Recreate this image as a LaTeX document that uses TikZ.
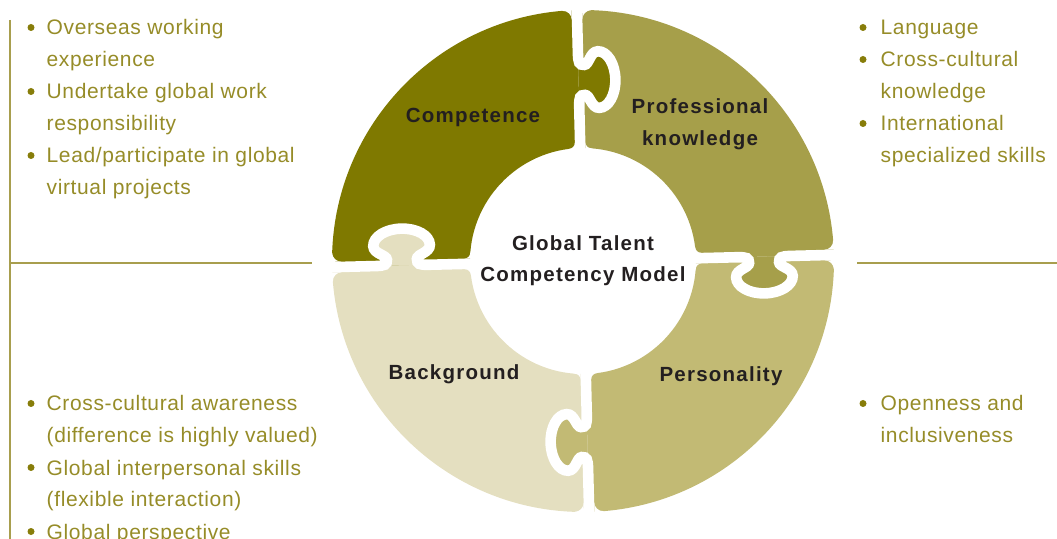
\documentclass[tikz,border=0pt]{standalone}
\usepackage{fontspec}
\setmainfont{Liberation Sans}
\newfontfamily\listfont[LetterSpace=3]{Liberation Sans}
\newfontfamily\labfont[LetterSpace=6]{Liberation Sans}
\definecolor{cComp}{RGB}{127,121,0}
\definecolor{cProf}{RGB}{166,159,74}
\definecolor{cPers}{RGB}{194,186,116}
\definecolor{cBack}{RGB}{228,223,192}
\definecolor{cText}{RGB}{150,140,40}
\definecolor{cBullet}{RGB}{135,125,10}
\definecolor{cLine}{RGB}{168,158,78}
\definecolor{cLabel}{RGB}{35,31,32}
\tikzset{
  lst/.style={font=\listfont\fontsize{21}{32}\selectfont, text=cText, anchor=base west, inner sep=0pt},
  bul/.style={circle, fill=cBullet, inner sep=0pt, minimum size=7pt},
  lab/.style={font=\labfont\bfseries\fontsize{20.5}{32}\selectfont, text=cLabel, anchor=base, inner sep=0pt},
  rulestyle/.style={draw=cLine, line width=2pt},
  gapline/.style={draw=white, line width=10.6pt, line cap=butt},
}
\begin{document}
\begin{tikzpicture}[x=1pt,y=1pt]
\useasboundingbox (0,0) rectangle (1057,538);

% rules
\coordinate (v1) at (10,518);
\coordinate (v2) at (10,-2);
\coordinate (h1) at (10,274.5);
\coordinate (h2) at (312,274.5);
\coordinate (h3) at (857,274.5);
\coordinate (h4) at (1060,274.5);
\draw[rulestyle] (v1) -- (v2);
\draw[rulestyle] (h1) -- (h2);
\draw[rulestyle] (h3) -- (h4);

% puzzle ring
\begin{scope}[shift={(583,277)}, rotate=1.4]
\foreach \a/\c in {0/cComp,90/cBack,180/cPers,270/cProf}{
  \fill[\c, rotate=\a] (90:251) arc[start angle=90,end angle=180,radius=251] -- (180:113) arc[start angle=180,end angle=90,radius=113] -- cycle;
}
\foreach \a/\c in {0/cComp,90/cBack,180/cPers,270/cProf}{
  \fill[\c, rotate=\a] (0,154) .. controls (0,164) and (1,166) .. (6,166) .. controls (11,166) and (12,152.7) .. (20,152.7) .. controls (29.3,152.7) and (36.8,165.4) .. (36.8,181) .. controls (36.8,196.6) and (29.3,209.3) .. (20,209.3) .. controls (12,209.3) and (11,196) .. (6,196) .. controls (1,196) and (0,198) .. (0,208) -- cycle;
}
\foreach \a in {0,90,180,270}{
  \draw[gapline, rotate=\a] (0,108) -- (0,154) .. controls (0,164) and (1,166) .. (6,166) .. controls (11,166) and (12,152.7) .. (20,152.7) .. controls (29.3,152.7) and (36.8,165.4) .. (36.8,181) .. controls (36.8,196.6) and (29.3,209.3) .. (20,209.3) .. controls (12,209.3) and (11,196) .. (6,196) .. controls (1,196) and (0,198) .. (0,208) -- (0,258);
}
\foreach \a in {0,90,180,270}{
  \begin{scope}[rotate=\a]
  \fill[white] (-5.3,241.58) -- (-5.3,262) -- (-14.3,262) -- (-14.3,250.58) arc[start angle=90,end angle=0,radius=9] -- cycle;
  \fill[white] (5.3,241.58) -- (5.3,262) -- (14.3,262) -- (14.3,250.58) arc[start angle=90,end angle=180,radius=9] -- cycle;
  \fill[white] (-5.3,118.46) -- (-5.3,100) -- (-11.3,100) -- (-11.3,112.46) arc[start angle=270,end angle=360,radius=6] -- cycle;
  \fill[white] (5.3,118.46) -- (5.3,100) -- (11.3,100) -- (11.3,112.46) arc[start angle=270,end angle=180,radius=6] -- cycle;
  \end{scope}
}
\end{scope}

% labels
\node[lab] (comp) at (473,415) {Competence};
\node[lab] (prof1) at (700,424) {Professional};
\node[lab] (prof2) at (700,392) {knowledge};
\node[lab] (gt1) at (583,287) {Global Talent};
\node[lab] (gt2) at (583,256) {Competency Model};
\node[lab] (back) at (454,158) {Background};
\node[lab] (pers) at (721,156) {Personality};

% left top list
\node[bul] (b1) at (31,510.5) {};
\node[lst] (t1) at (46.5,503) {Overseas working};
\node[lst] (t2) at (46.5,471) {experience};
\node[bul] (b2) at (31,446.5) {};
\node[lst] (t3) at (46.5,439) {Undertake global work};
\node[lst] (t4) at (46.5,407) {responsibility};
\node[bul] (b3) at (31,382.5) {};
\node[lst] (t5) at (46.5,375) {Lead/participate in global};
\node[lst] (t6) at (46.5,343) {virtual projects};

% left bottom list
\node[bul] (b4) at (31,134.5) {};
\node[lst] (u1) at (46.5,127) {Cross-cultural awareness};
\node[lst] (u2) at (46.5,95) {(difference is highly valued)};
\node[bul] (b5) at (31,70.5) {};
\node[lst] (u3) at (46.5,63) {Global interpersonal skills};
\node[lst] (u4) at (46.5,31) {(flexible interaction)};
\node[bul] (b6) at (31,6.5) {};
\node[lst] (u5) at (46.5,-1) {Global perspective};

% right top list
\node[bul] (r1) at (863,510.5) {};
\node[lst] (s1) at (880.5,503) {Language};
\node[bul] (r2) at (863,478.5) {};
\node[lst] (s2) at (880.5,471) {Cross-cultural};
\node[lst] (s3) at (880.5,439) {knowledge};
\node[bul] (r3) at (863,414.5) {};
\node[lst] (s4) at (880.5,407) {International};
\node[lst] (s5) at (880.5,375) {specialized skills};

% right bottom list
\node[bul] (r4) at (863,134.5) {};
\node[lst] (w1) at (880.5,127) {Openness and};
\node[lst] (w2) at (880.5,95) {inclusiveness};
\end{tikzpicture}
\end{document}
